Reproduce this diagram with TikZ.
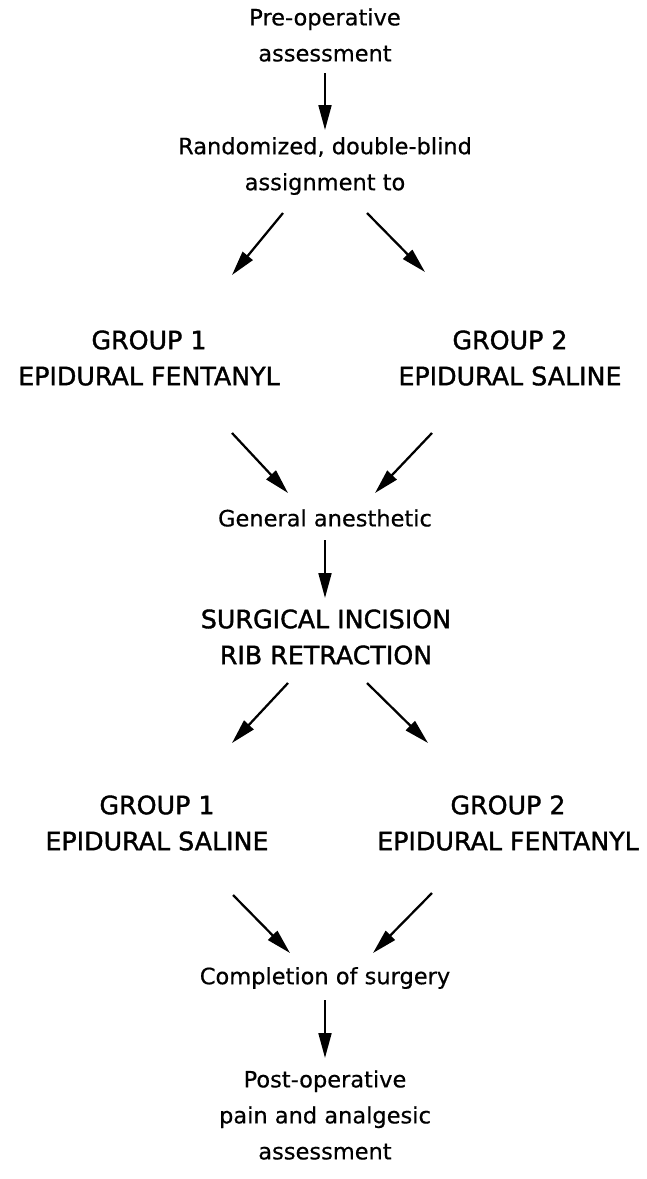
\documentclass[tikz,border=0pt]{standalone}
\usepackage{fontspec}
\setmainfont{DejaVu Sans}[FakeBold=0.5]
\newfontfamily\capsfont[FakeBold=1.4]{DejaVu Sans}
\usetikzlibrary{arrows.meta, calc}

\tikzset{
    step label/.style={align=center, inner sep=0pt, font=\fontsize{16}{25.6}\selectfont},
    group label/.style={step label, font=\capsfont\fontsize{18}{25.6}\selectfont},
    arr/.style={-{Triangle[length=0.62cm, width=0.32cm]}, line width=1.6pt}
}

\begin{document}
\begin{tikzpicture}[x=0.025cm, y=-0.025cm]
    \useasboundingbox (0,0) rectangle (646,1179);

    \node[step label] (pre) at (325,35) {Pre-operative\\assessment};
    \node[step label] (assign) at (325,166) {Randomized, double-blind\\assignment to};
    \node[group label] (grpA) at (149,358) {GROUP 1\\EPIDURAL FENTANYL};
    \node[group label] (grpB) at (510,358) {GROUP 2\\EPIDURAL SALINE};
    \node[step label] (gen) at (325,518) {General anesthetic};
    \node[group label] (incision) at (326,637) {SURGICAL INCISION\\RIB RETRACTION};
    \node[group label] (grpC) at (157,823) {GROUP 1\\EPIDURAL SALINE};
    \node[group label] (grpD) at (508,823) {GROUP 2\\EPIDURAL FENTANYL};
    \node[step label] (done) at (325,978) {Completion of surgery};
    \node[step label] (post) at (325,1115) {Post-operative\\pain and analgesic\\assessment};

    % randomization
    \draw[arr] ($(pre)+(0,38)$) -- ($(assign)+(0,-36)$);
    \draw[arr] ($(assign)+(-42,47)$) -- ($(grpA)+(83,-83)$);
    \draw[arr] ($(assign)+(42,47)$) -- ($(grpB)+(-85,-86)$);
    % anesthesia and incision
    \draw[arr] ($(grpA)+(83,75)$) -- ($(gen)+(-37,-25)$);
    \draw[arr] ($(grpB)+(-78,75)$) -- ($(gen)+(50,-25)$);
    \draw[arr] ($(gen)+(0,22)$) -- ($(incision)+(-1,-39)$);
    \draw[arr] ($(incision)+(-38,46)$) -- ($(grpC)+(75,-80)$);
    \draw[arr] ($(incision)+(41,46)$) -- ($(grpD)+(-80,-80)$);
    % end of surgery
    \draw[arr] ($(grpC)+(76,72)$) -- ($(done)+(-35,-25)$);
    \draw[arr] ($(grpD)+(-76,70)$) -- ($(done)+(48,-25)$);
    \draw[arr] ($(done)+(0,22)$) -- ($(post)+(0,-57)$);
\end{tikzpicture}
\end{document}
